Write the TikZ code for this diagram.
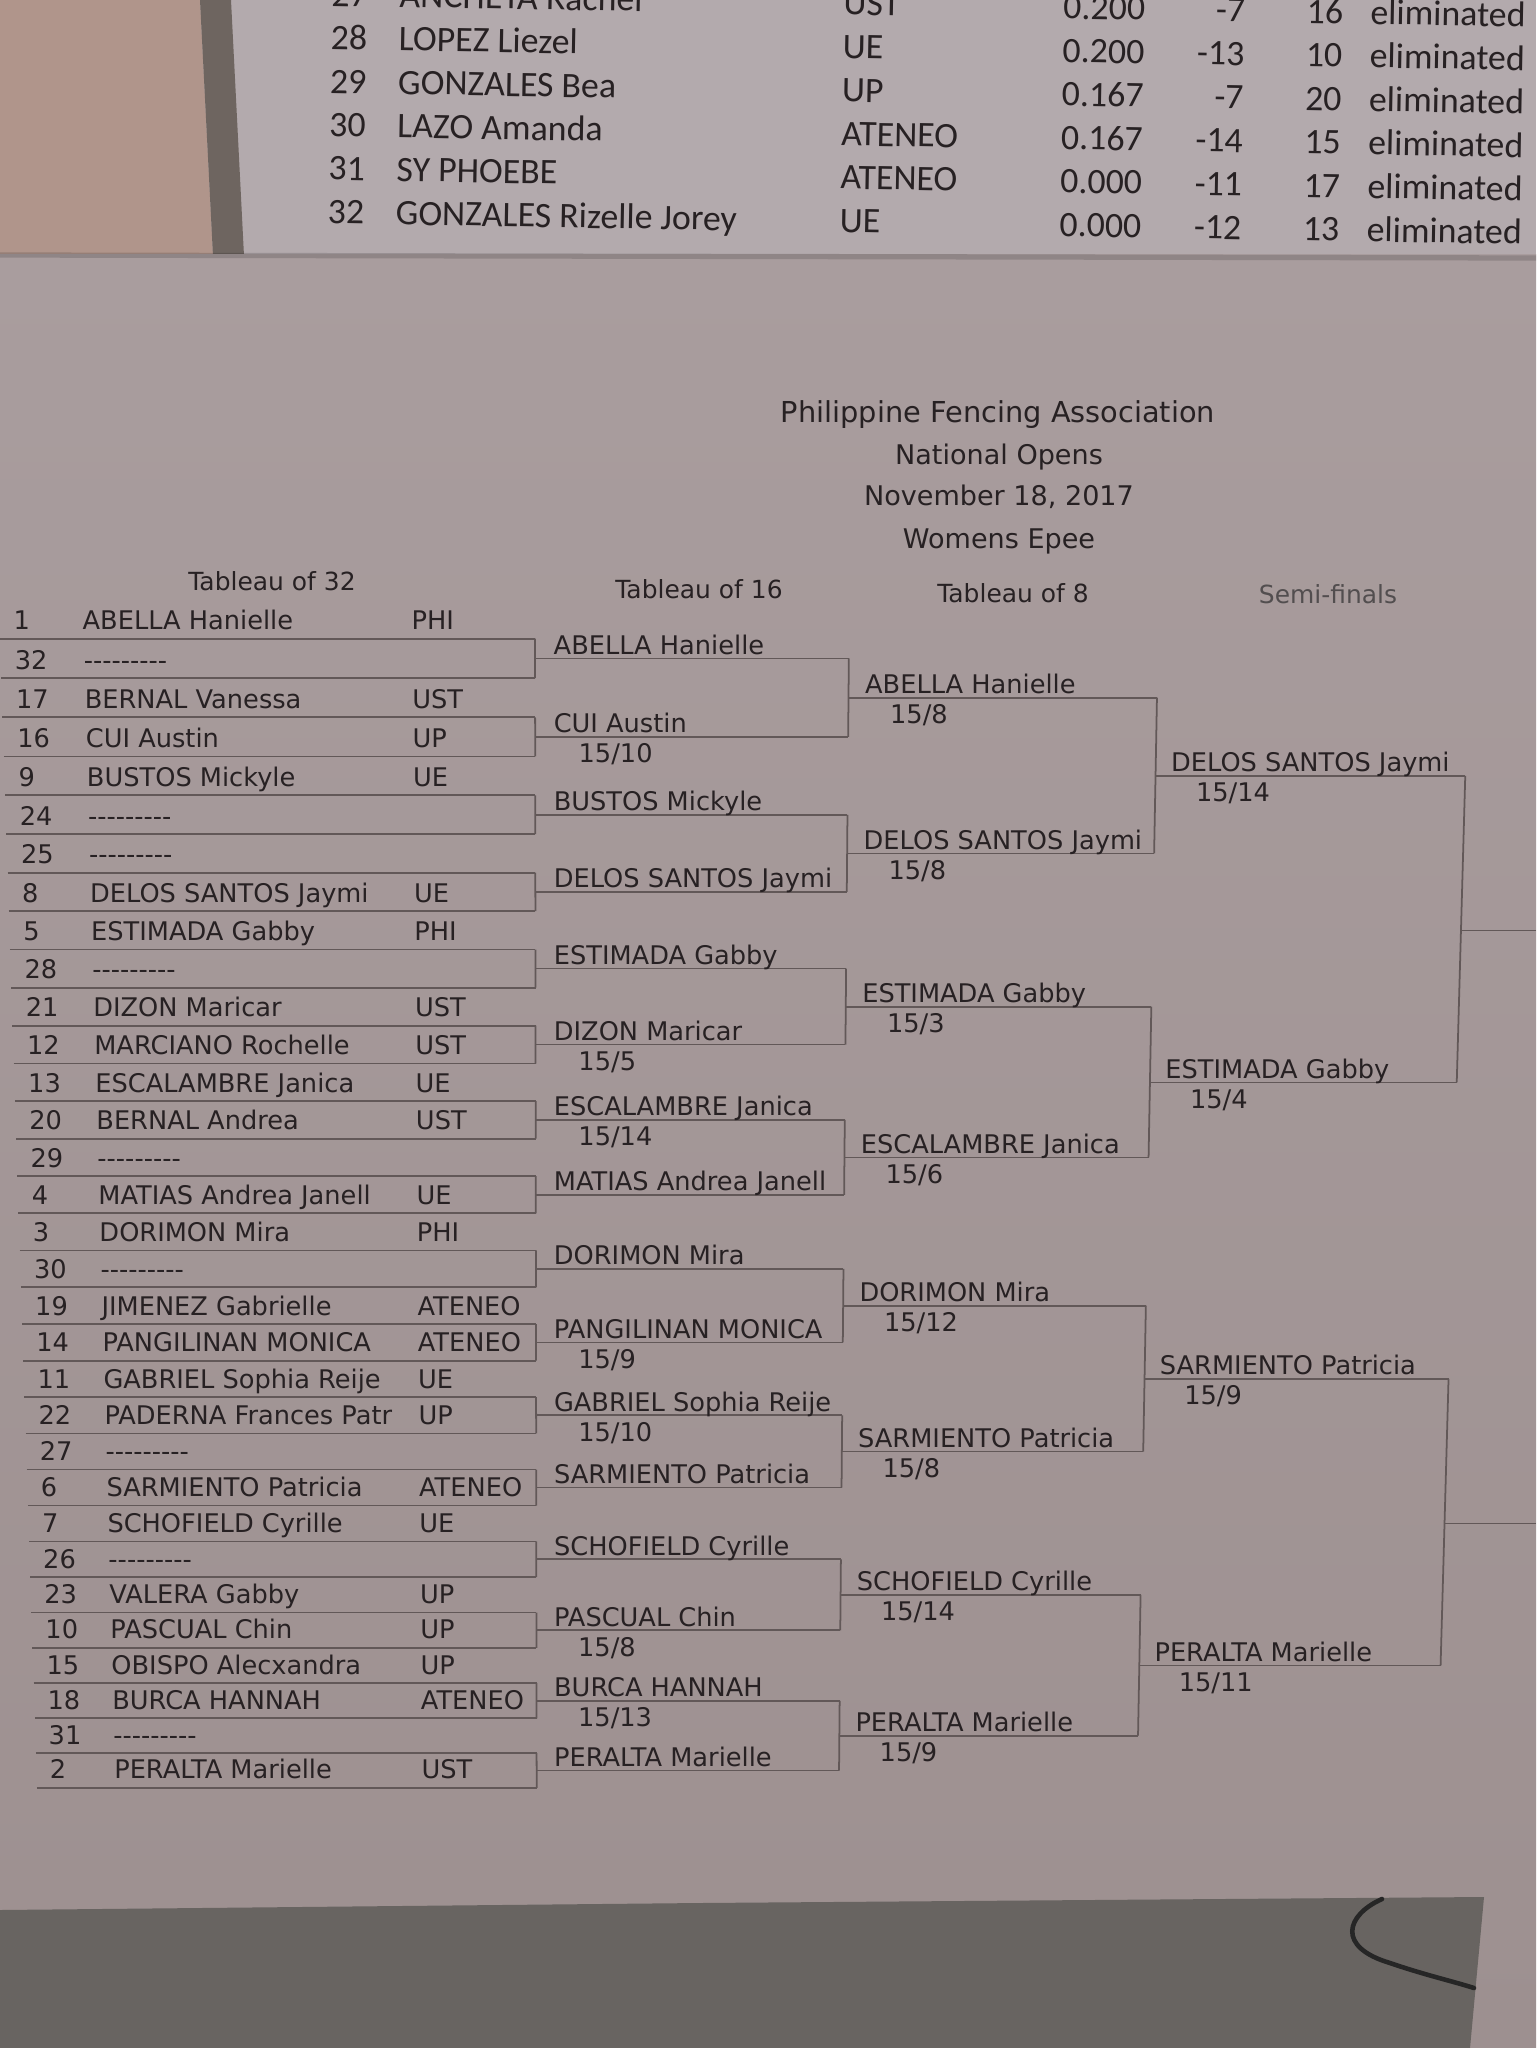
\documentclass[tikz,border=0pt]{standalone}
\usepackage{fontspec}
\newfontfamily\bracketfont{DejaVu Sans}
\newfontfamily\sheetfont{Carlito}

\definecolor{wood}{HTML}{B0958B}
\definecolor{edge}{HTML}{6E6560}
\definecolor{sheet}{HTML}{B3AAAD}
\definecolor{paperA}{HTML}{A99D9E}
\definecolor{paperB}{HTML}{9D9090}
\definecolor{floor}{HTML}{686461}
\definecolor{ink}{HTML}{272123}
\definecolor{rulecol}{HTML}{625858}

% line t of the tableau of 32 -> height in the photo
\newcommand{\rowy}[2]{\pgfmathsetmacro#1{638.7+39.47*(#2)-0.0774*(#2)*(#2)}}
% column x at height y (the sheet narrows towards the bottom)
\newcommand{\colx}[3]{\pgfmathsetmacro#1{#2+((#3)-640)/1148*(37*max(0,1-(#2)/560)-0.035*max(0,(#2)-560))}}
\newcommand{\bye}{-{}-{}-{}-{}-{}-{}-{}-{}-}

\tikzset{
  entry/.style={anchor=base west,inner sep=0pt,text=ink,font=\bracketfont\fontsize{7.3}{8}\selectfont},
  heading/.style={anchor=base,inner sep=0pt,text=ink,font=\bracketfont\fontsize{7.1}{8}\selectfont},
  title/.style={anchor=base,inner sep=0pt,text=ink,font=\bracketfont\fontsize{7.7}{9}\selectfont},
  cell/.style={anchor=base west,inner sep=0pt,text=ink,font=\sheetfont\fontsize{10.2}{12}\selectfont},
  rule/.style={draw=rulecol,line width=0.5pt},
  cable/.style={draw=black!85,line width=1.3pt,line cap=round}
}

\begin{document}
\begin{tikzpicture}[x=0.1mm,y=-0.1mm]
		\useasboundingbox (0,0) rectangle (1536,2048);
		\clip (0,0) rectangle (1536,2048);
		% the photo round the sheet
		\fill[sheet] (0,0) rectangle (1536,258);
		\fill[wood] (0,0) -- (200,0) -- (213,256) -- (0,256) -- cycle;
		\fill[edge] (200,0) -- (231,0) -- (244,256) -- (213,256) -- cycle;
		\shade[top color=paperA,bottom color=paperB] (0,255) rectangle (1536,2048);
		\draw[black,opacity=.15,line width=1.5pt] (0,255) -- (1536,258);
		\fill[floor] (0,1910) -- (700,1903) -- (1484,1897) -- (1470,2048) -- (0,2048) -- cycle;
		\draw[cable] (1382,1899) .. controls (1346,1915) and (1336,1947) .. (1390,1963)
			.. controls (1425,1975) and (1452,1981) .. (1474,1988);

		% pool results, sheet above
		\begin{scope}[rotate around={-1:(330,49)},transform shape]
		\foreach \seed/\name/\club/\ratio/\diff/\rank [count=\k from 0] in {
			27/ANCHETA Rachel/UST/0.200/-7/16,
			28/LOPEZ Liezel/UE/0.200/-13/10,
			29/GONZALES Bea/UP/0.167/-7/20,
			30/LAZO Amanda/ATENEO/0.167/-14/15,
			31/SY PHOEBE/ATENEO/0.000/-11/17,
			32/GONZALES Rizelle Jorey/UE/0.000/-12/13}{
			\pgfmathsetmacro\yb{6+43.5*\k}
			\node[cell] (q-\seed) at (330,\yb) {\seed};
			\node[cell] (qn-\seed) at (398,\yb) {\name};
			\node[cell] (qc-\seed) at (842,\yb) {\club};
			\node[cell,anchor=base east] (qr-\seed) at (1145,\yb) {\ratio};
			\node[cell,anchor=base east] (qd-\seed) at (1245,\yb) {\diff};
			\node[cell,anchor=base east] (qk-\seed) at (1343,\yb) {\rank};
			\node[cell] (qe-\seed) at (1369,\yb) {eliminated};
		}
		\end{scope}

		% title
		\node[title,font=\bracketfont\fontsize{8.2}{9}\selectfont] (title1) at (998,423) {Philippine Fencing Association};
		\node[title] (title2) at (999,464) {National Opens};
		\node[title] (title3) at (999,506) {November 18, 2017};
		\node[title] (title4) at (999,548) {Womens Epee};
		\node[heading] (h32) at (272,590) {Tableau of 32};
		\node[heading] (h16) at (699,598) {Tableau of 16};
		\node[heading] (h8) at (1013,602) {Tableau of 8};
		\node[heading,text=ink!80] (hsf) at (1328,603) {Semi-finals};

		% tableau of 32
		\foreach \seed/\name/\club [count=\i from 0] in {
			1/ABELLA Hanielle/PHI, 32/\bye/, 17/BERNAL Vanessa/UST, 16/CUI Austin/UP,
			9/BUSTOS Mickyle/UE, 24/\bye/, 25/\bye/, 8/DELOS SANTOS Jaymi/UE,
			5/ESTIMADA Gabby/PHI, 28/\bye/, 21/DIZON Maricar/UST, 12/MARCIANO Rochelle/UST,
			13/ESCALAMBRE Janica/UE, 20/BERNAL Andrea/UST, 29/\bye/, 4/MATIAS Andrea Janell/UE,
			3/DORIMON Mira/PHI, 30/\bye/, 19/JIMENEZ Gabrielle/ATENEO, 14/PANGILINAN MONICA/ATENEO,
			11/GABRIEL Sophia Reije/UE, 22/PADERNA Frances Patr/UP, 27/\bye/, 6/SARMIENTO Patricia/ATENEO,
			7/SCHOFIELD Cyrille/UE, 26/\bye/, 23/VALERA Gabby/UP, 10/PASCUAL Chin/UP,
			15/OBISPO Alecxandra/UP, 18/BURCA HANNAH/ATENEO, 31/\bye/, 2/PERALTA Marielle/UST}{
			\rowy\ya{\i}
			\colx\xl{0}{\ya} \colx\xr{535}{\ya}
			\colx\xs{13}{\ya} \colx\xn{82}{\ya} \colx\xc{411}{\ya}
			\coordinate (t1-\i-l) at (\xl,\ya);
			\coordinate (t1-\i-r) at (\xr,\ya);
			\draw[rule] (t1-\i-l) -- (t1-\i-r);
			\node[entry] (s1-\i) at (\xs,\ya-9) {\seed};
			\node[entry] (n1-\i) at (\xn,\ya-9) {\name};
			\ifx\club\empty\else
				\node[entry] (c1-\i) at (\xc,\ya-9) {\club};
			\fi
		}

		% tableau of 16
		\foreach \name/\sa/\sb [count=\j from 0] in {
			ABELLA Hanielle/0/0, CUI Austin/15/10, BUSTOS Mickyle/0/0, DELOS SANTOS Jaymi/0/0,
			ESTIMADA Gabby/0/0, DIZON Maricar/15/5, ESCALAMBRE Janica/15/14, MATIAS Andrea Janell/0/0,
			DORIMON Mira/0/0, PANGILINAN MONICA/15/9, GABRIEL Sophia Reije/15/10, SARMIENTO Patricia/0/0,
			SCHOFIELD Cyrille/0/0, PASCUAL Chin/15/8, BURCA HANNAH/15/13, PERALTA Marielle/0/0}{
			\pgfmathtruncatemacro\ia{2*\j}
			\pgfmathtruncatemacro\ib{2*\j+1}
			\draw[rule] (t1-\ia-r) -- (t1-\ib-r);
			\pgfmathsetmacro\tm{2*\j+0.5}
			\rowy\ya{\tm}
			\colx\xl{535}{\ya} \colx\xr{849}{\ya} \colx\xn{553}{\ya}
			\coordinate (t2-\j-l) at (\xl,\ya);
			\coordinate (t2-\j-r) at (\xr,\ya);
			\draw[rule] (t2-\j-l) -- (t2-\j-r);
			\node[entry] (n2-\j) at (\xn,\ya-4) {\name};
			\ifnum\sa>0
				\colx\xs{578}{\ya}
				\node[entry] (p2-\j) at (\xs,\ya+26) {\sa/\sb};
			\fi
		}

		% tableau of 8
		\foreach \name/\sa/\sb [count=\j from 0] in {
			ABELLA Hanielle/15/8, DELOS SANTOS Jaymi/15/8, ESTIMADA Gabby/15/3, ESCALAMBRE Janica/15/6,
			DORIMON Mira/15/12, SARMIENTO Patricia/15/8, SCHOFIELD Cyrille/15/14, PERALTA Marielle/15/9}{
			\pgfmathtruncatemacro\ia{2*\j}
			\pgfmathtruncatemacro\ib{2*\j+1}
			\draw[rule] (t2-\ia-r) -- (t2-\ib-r);
			\pgfmathsetmacro\tm{4*\j+1.5}
			\rowy\ya{\tm}
			\colx\xl{849}{\ya} \colx\xr{1158}{\ya} \colx\xn{865}{\ya}
			\coordinate (t3-\j-l) at (\xl,\ya);
			\coordinate (t3-\j-r) at (\xr,\ya);
			\draw[rule] (t3-\j-l) -- (t3-\j-r);
			\node[entry] (n3-\j) at (\xn,\ya-4) {\name};
			\ifnum\sa>0
				\colx\xs{890}{\ya}
				\node[entry] (p3-\j) at (\xs,\ya+26) {\sa/\sb};
			\fi
		}

		% semi-finals
		\foreach \name/\sa/\sb [count=\j from 0] in {
			DELOS SANTOS Jaymi/15/14, ESTIMADA Gabby/15/4, SARMIENTO Patricia/15/9, PERALTA Marielle/15/11}{
			\pgfmathtruncatemacro\ia{2*\j}
			\pgfmathtruncatemacro\ib{2*\j+1}
			\draw[rule] (t3-\ia-r) -- (t3-\ib-r);
			\pgfmathsetmacro\tm{8*\j+3.5}
			\rowy\ya{\tm}
			\colx\xl{1158}{\ya} \colx\xr{1469}{\ya} \colx\xn{1173}{\ya}
			\coordinate (t4-\j-l) at (\xl,\ya);
			\coordinate (t4-\j-r) at (\xr,\ya);
			\draw[rule] (t4-\j-l) -- (t4-\j-r);
			\node[entry] (n4-\j) at (\xn,\ya-4) {\name};
			\ifnum\sa>0
				\colx\xs{1198}{\ya}
				\node[entry] (p4-\j) at (\xs,\ya+26) {\sa/\sb};
			\fi
		}

		% finals, running off the sheet
		\foreach \j in {0,1}{
			\pgfmathtruncatemacro\ia{2*\j}
			\pgfmathtruncatemacro\ib{2*\j+1}
			\draw[rule] (t4-\ia-r) -- (t4-\ib-r);
			\pgfmathsetmacro\tm{16*\j+7.5}
			\rowy\ya{\tm}
			\colx\xl{1469}{\ya}
			\coordinate (t5-\j-l) at (\xl,\ya);
			\coordinate (t5-\j-r) at (1536,\ya);
			\draw[rule] (t5-\j-l) -- (t5-\j-r);
		}
\end{tikzpicture}
\end{document}
